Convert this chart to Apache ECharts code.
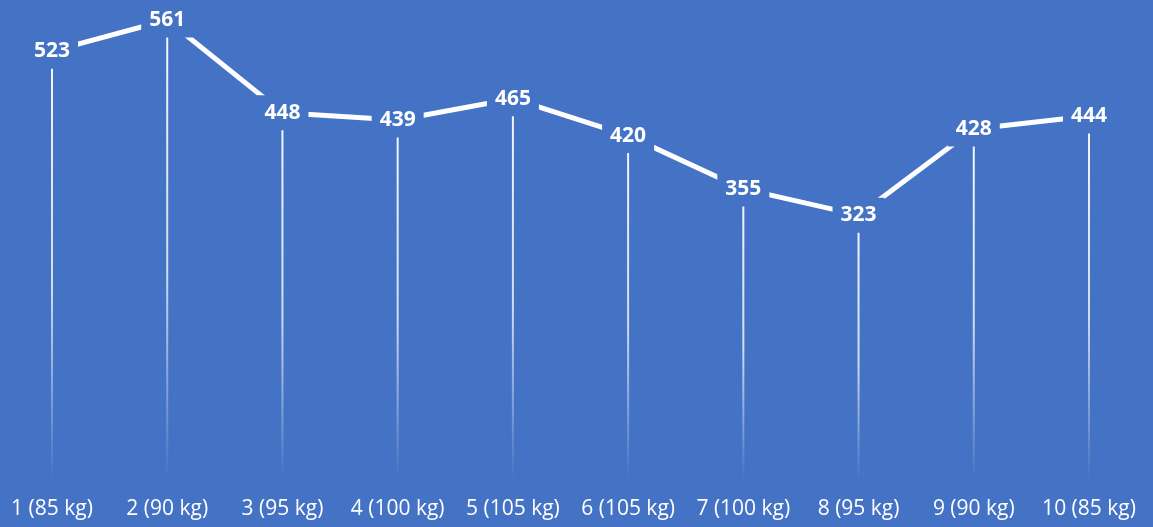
<!DOCTYPE html>
<html>
<head>
<meta charset="utf-8">
<style>
  html, body { margin: 0; padding: 0; background: #4472C4; }
  #chart { width: 1153px; height: 527px; }
</style>
<script src="https://cdn.jsdelivr.net/npm/echarts@6/dist/echarts.min.js"></script>
</head>
<body>
<div id="chart"></div>
<script>
// Set number with the weight used for it
const categories = ['1 (85 kg)', '2 (90 kg)', '3 (95 kg)', '4 (100 kg)', '5 (105 kg)',
                    '6 (105 kg)', '7 (100 kg)', '8 (95 kg)', '9 (90 kg)', '10 (85 kg)'];
const values = [523, 561, 448, 439, 465, 420, 355, 323, 428, 444];

const BG = '#4472C4';
const chart = echarts.init(document.getElementById('chart'));

chart.setOption({
  backgroundColor: BG,
  animation: false,
  grid: { left: 52, right: 64, top: 20, bottom: 47 },
  xAxis: {
    type: 'category',
    data: categories,
    boundaryGap: false,
    axisLine: { show: false },
    axisTick: { show: false },
    axisLabel: {
      interval: 0,
      hideOverlap: false,
      color: '#ffffff',
      fontFamily: 'Open Sans',
      fontSize: 21,
      margin: 19
    }
  },
  yAxis: {
    type: 'value',
    min: 0,
    max: 'dataMax',
    show: false,
    splitLine: { show: false }
  },
  series: [
    {
      // drop lines from each point down to the axis, fading out
      type: 'bar',
      data: values,
      barWidth: 2,
      z: 1,
      itemStyle: {
        color: new echarts.graphic.LinearGradient(0, 0, 0, 1, [
          { offset: 0, color: 'rgba(255,255,255,0.95)' },
          { offset: 0.55, color: 'rgba(255,255,255,0.75)' },
          { offset: 1, color: 'rgba(255,255,255,0)' }
        ])
      }
    },
    {
      type: 'line',
      data: values,
      z: 3,
      symbol: 'circle',
      symbolSize: 1,
      itemStyle: { color: 'rgba(255,255,255,0)' },
      lineStyle: { color: '#ffffff', width: 5 },
      label: {
        show: true,
        position: 'inside',
        color: '#ffffff',
        fontFamily: 'Open Sans',
        fontWeight: 'bold',
        fontSize: 21,
        backgroundColor: BG,
        padding: [7, 8]
      }
    }
  ]
});
</script>
</body>
</html>
